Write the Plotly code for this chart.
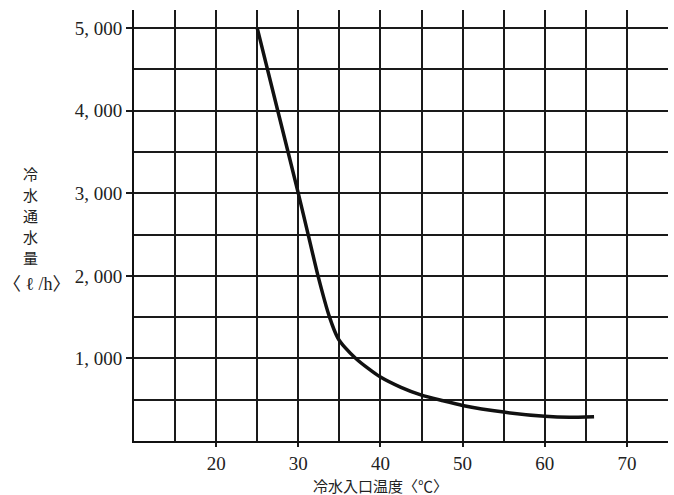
import plotly.graph_objects as go

# Curve data
temp_c = [25, 27.5, 30, 31.2, 32.4, 33.8, 34.8, 35.7, 37, 38.5, 40, 42.5, 45, 47.5, 50, 55, 60, 63, 66]
flow_lph = [5000, 4000, 3000, 2500, 2000, 1500, 1250, 1130, 1000, 880, 775, 650, 555, 490, 430, 350, 300, 288, 295]

x_major = [20, 30, 40, 50, 60, 70]
x_major_labels = ["20", "30", "40", "50", "60", "70"]
x_minor = [15, 25, 35, 45, 55, 65]
y_major = [1000, 2000, 3000, 4000, 5000]
y_major_labels = ["1, 000", "2, 000", "3, 000", "4, 000", "5, 000"]
y_minor = [500, 1500, 2500, 3500, 4500]
y_title_chars = ["冷", "水", "通", "水", "量"]

serif = "Liberation Serif, DejaVu Serif, serif"
cjk = "Noto Sans CJK JP, Noto Sans CJK SC, sans-serif"

fig = go.Figure()
fig.add_trace(go.Scatter(
    x=temp_c, y=flow_lph, mode="lines",
    line=dict(color="#111111", width=3.5, shape="spline", smoothing=0.5),
    showlegend=False, hoverinfo="skip",
))

fig.update_xaxes(
    range=[10, 75], tickvals=x_major, ticktext=x_major_labels, automargin=False,
    showgrid=True, gridcolor="#1a1a1a", gridwidth=1.5,
    ticks="outside", ticklen=4, tickwidth=1.5, tickcolor="#1a1a1a",
    showline=True, linecolor="#111111", linewidth=2,
    zeroline=False,
    tickfont=dict(family=serif, size=19, color="#222222"),
    minor=dict(tickvals=x_minor, showgrid=True, gridcolor="#1a1a1a", gridwidth=1.5, ticks=""),
)
fig.update_yaxes(
    range=[0, 5220], tickvals=y_major, ticktext=y_major_labels, automargin=False,
    showgrid=True, gridcolor="#1a1a1a", gridwidth=1.5,
    ticks="outside", ticklen=6, tickwidth=1.5, tickcolor="#1a1a1a",
    showline=True, linecolor="#111111", linewidth=2,
    zeroline=False,
    tickfont=dict(family=serif, size=19, color="#222222"),
    minor=dict(tickvals=y_minor, showgrid=True, gridcolor="#1a1a1a", gridwidth=1.5, ticks=""),
)

# vertical y-axis title, one character per annotation
char_y_px = [173, 194, 215, 236, 257]
for ch, ypx in zip(y_title_chars, char_y_px):
    fig.add_annotation(
        text=ch, xref="paper", yref="paper",
        x=(30 - 134) / 534, y=(441 - ypx) / 431, xanchor="center", yanchor="middle",
        showarrow=False, borderpad=0, font=dict(family=cjk, size=15, color="#222222"),
    )
fig.add_annotation(
    text="〈 ℓ /h〉", xref="paper", yref="paper",
    x=(37 - 134) / 534, y=(441 - 284) / 431, xanchor="center", yanchor="middle", showarrow=False,
    borderpad=0, font=dict(family=serif + ", " + cjk, size=18, color="#222222"),
)
fig.add_annotation(
    text="冷水入口温度〈℃〉", xref="paper", yref="paper",
    x=(380 - 134) / 534, y=(441 - 485) / 431, xanchor="center", yanchor="middle", showarrow=False,
    borderpad=0, font=dict(family=cjk, size=15, color="#222222"),
)

fig.update_layout(
    width=674, height=495,
    margin=dict(l=134, r=6, t=10, b=54),
    plot_bgcolor="white", paper_bgcolor="white",
)

fig.write_html("out.html", config={"displayModeBar": False},
               post_script="document.body.style.margin='0';")
